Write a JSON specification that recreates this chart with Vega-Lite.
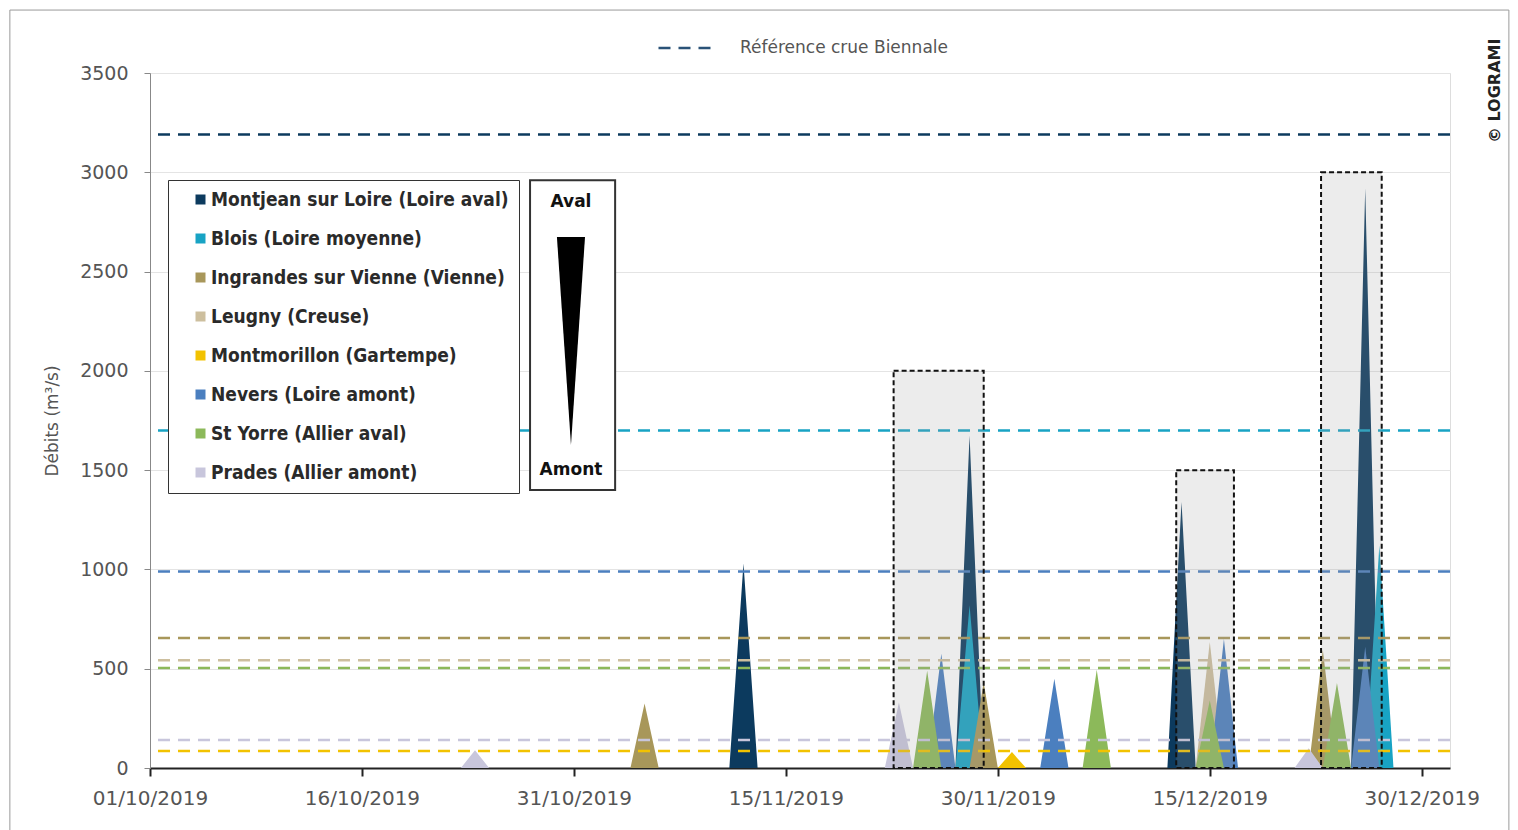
{
  "$schema": "https://vega.github.io/schema/vega-lite/v6.json",
  "width": 1300,
  "height": 695,
  "autosize": {"type": "none"},
  "padding": {"left": 150, "top": 73, "right": 68, "bottom": 62},
  "background": "white",
  "config": {
    "font": "DejaVu Sans",
    "view": {"stroke": "#dddddd", "strokeWidth": 1}
  },
  "datasets": {
    "flows": [
      {"station": "Montjean sur Loire (Loire aval)", "date": "2019-11-11T00:00", "q": 0},
      {"station": "Montjean sur Loire (Loire aval)", "date": "2019-11-12T00:00", "q": 1030},
      {"station": "Montjean sur Loire (Loire aval)", "date": "2019-11-13T00:00", "q": 0},
      {"station": "Montjean sur Loire (Loire aval)", "date": "2019-11-27T00:00", "q": 0},
      {"station": "Montjean sur Loire (Loire aval)", "date": "2019-11-28T00:00", "q": 1675},
      {"station": "Montjean sur Loire (Loire aval)", "date": "2019-11-29T00:00", "q": 0},
      {"station": "Montjean sur Loire (Loire aval)", "date": "2019-12-12T00:00", "q": 0},
      {"station": "Montjean sur Loire (Loire aval)", "date": "2019-12-13T00:00", "q": 1340},
      {"station": "Montjean sur Loire (Loire aval)", "date": "2019-12-14T00:00", "q": 0},
      {"station": "Montjean sur Loire (Loire aval)", "date": "2019-12-25T00:00", "q": 0},
      {"station": "Montjean sur Loire (Loire aval)", "date": "2019-12-26T00:00", "q": 2920},
      {"station": "Montjean sur Loire (Loire aval)", "date": "2019-12-27T00:00", "q": 0},
      {"station": "Blois (Loire moyenne)", "date": "2019-11-27T00:00", "q": 0},
      {"station": "Blois (Loire moyenne)", "date": "2019-11-28T00:00", "q": 820},
      {"station": "Blois (Loire moyenne)", "date": "2019-11-29T00:00", "q": 0},
      {"station": "Blois (Loire moyenne)", "date": "2019-12-26T00:00", "q": 0},
      {"station": "Blois (Loire moyenne)", "date": "2019-12-27T00:00", "q": 1120},
      {"station": "Blois (Loire moyenne)", "date": "2019-12-28T00:00", "q": 0},
      {"station": "Ingrandes sur Vienne (Vienne)", "date": "2019-11-04T00:00", "q": 0},
      {"station": "Ingrandes sur Vienne (Vienne)", "date": "2019-11-05T00:00", "q": 325},
      {"station": "Ingrandes sur Vienne (Vienne)", "date": "2019-11-06T00:00", "q": 0},
      {"station": "Ingrandes sur Vienne (Vienne)", "date": "2019-11-28T00:00", "q": 0},
      {"station": "Ingrandes sur Vienne (Vienne)", "date": "2019-11-29T00:00", "q": 430},
      {"station": "Ingrandes sur Vienne (Vienne)", "date": "2019-11-30T00:00", "q": 0},
      {"station": "Ingrandes sur Vienne (Vienne)", "date": "2019-12-22T00:00", "q": 0},
      {"station": "Ingrandes sur Vienne (Vienne)", "date": "2019-12-23T00:00", "q": 594},
      {"station": "Ingrandes sur Vienne (Vienne)", "date": "2019-12-24T00:00", "q": 0},
      {"station": "Leugny (Creuse)", "date": "2019-12-14T00:00", "q": 0},
      {"station": "Leugny (Creuse)", "date": "2019-12-15T00:00", "q": 635},
      {"station": "Leugny (Creuse)", "date": "2019-12-16T00:00", "q": 0},
      {"station": "Montmorillon (Gartempe)", "date": "2019-11-30T00:00", "q": 0},
      {"station": "Montmorillon (Gartempe)", "date": "2019-12-01T00:00", "q": 80},
      {"station": "Montmorillon (Gartempe)", "date": "2019-12-02T00:00", "q": 0},
      {"station": "Nevers (Loire amont)", "date": "2019-11-25T00:00", "q": 0},
      {"station": "Nevers (Loire amont)", "date": "2019-11-26T00:00", "q": 575},
      {"station": "Nevers (Loire amont)", "date": "2019-11-27T00:00", "q": 0},
      {"station": "Nevers (Loire amont)", "date": "2019-12-03T00:00", "q": 0},
      {"station": "Nevers (Loire amont)", "date": "2019-12-04T00:00", "q": 450},
      {"station": "Nevers (Loire amont)", "date": "2019-12-05T00:00", "q": 0},
      {"station": "Nevers (Loire amont)", "date": "2019-12-15T00:00", "q": 0},
      {"station": "Nevers (Loire amont)", "date": "2019-12-16T00:00", "q": 650},
      {"station": "Nevers (Loire amont)", "date": "2019-12-17T00:00", "q": 0},
      {"station": "Nevers (Loire amont)", "date": "2019-12-25T00:00", "q": 0},
      {"station": "Nevers (Loire amont)", "date": "2019-12-26T00:00", "q": 610},
      {"station": "Nevers (Loire amont)", "date": "2019-12-27T00:00", "q": 0},
      {"station": "St Yorre (Allier aval)", "date": "2019-11-24T00:00", "q": 0},
      {"station": "St Yorre (Allier aval)", "date": "2019-11-25T00:00", "q": 490},
      {"station": "St Yorre (Allier aval)", "date": "2019-11-26T00:00", "q": 0},
      {"station": "St Yorre (Allier aval)", "date": "2019-12-06T00:00", "q": 0},
      {"station": "St Yorre (Allier aval)", "date": "2019-12-07T00:00", "q": 495},
      {"station": "St Yorre (Allier aval)", "date": "2019-12-08T00:00", "q": 0},
      {"station": "St Yorre (Allier aval)", "date": "2019-12-14T00:00", "q": 0},
      {"station": "St Yorre (Allier aval)", "date": "2019-12-15T00:00", "q": 340},
      {"station": "St Yorre (Allier aval)", "date": "2019-12-16T00:00", "q": 0},
      {"station": "St Yorre (Allier aval)", "date": "2019-12-23T00:00", "q": 0},
      {"station": "St Yorre (Allier aval)", "date": "2019-12-24T00:00", "q": 428},
      {"station": "St Yorre (Allier aval)", "date": "2019-12-25T00:00", "q": 0},
      {"station": "Prades (Allier amont)", "date": "2019-10-23T00:00", "q": 0},
      {"station": "Prades (Allier amont)", "date": "2019-10-24T00:00", "q": 90},
      {"station": "Prades (Allier amont)", "date": "2019-10-25T00:00", "q": 0},
      {"station": "Prades (Allier amont)", "date": "2019-11-22T00:00", "q": 0},
      {"station": "Prades (Allier amont)", "date": "2019-11-23T00:00", "q": 330},
      {"station": "Prades (Allier amont)", "date": "2019-11-24T00:00", "q": 0},
      {"station": "Prades (Allier amont)", "date": "2019-12-21T00:00", "q": 0},
      {"station": "Prades (Allier amont)", "date": "2019-12-22T00:00", "q": 100},
      {"station": "Prades (Allier amont)", "date": "2019-12-23T00:00", "q": 0}
    ],
    "refs": [
      {"station": "Montjean sur Loire (Loire aval)", "ref": 3190, "kind": "Référence crue Biennale"},
      {"station": "Blois (Loire moyenne)", "ref": 1700, "kind": "Référence crue Biennale"},
      {"station": "Nevers (Loire amont)", "ref": 990, "kind": "Référence crue Biennale"},
      {"station": "Ingrandes sur Vienne (Vienne)", "ref": 655, "kind": "Référence crue Biennale"},
      {"station": "Leugny (Creuse)", "ref": 542, "kind": "Référence crue Biennale"},
      {"station": "St Yorre (Allier aval)", "ref": 503, "kind": "Référence crue Biennale"},
      {"station": "Prades (Allier amont)", "ref": 141, "kind": "Référence crue Biennale"},
      {"station": "Montmorillon (Gartempe)", "ref": 86, "kind": "Référence crue Biennale"}
    ],
    "boxes": [
      {"start": "2019-11-22T15:00", "end": "2019-11-29T00:00", "top": 2000},
      {"start": "2019-12-12T15:00", "end": "2019-12-16T17:00", "top": 1500},
      {"start": "2019-12-22T21:00", "end": "2019-12-27T04:00", "top": 3000}
    ],
    "gauge": [
      {"start": "2019-10-27T21:30", "end": "2019-11-02T22:00", "low": 1400, "high": 2960}
    ],
    "arrow": [
      {"date": "2019-10-30T19:00", "y": 2150}
    ],
    "labels": [
      {"date": "2019-10-30T19:00", "y": 2850, "text": "Aval"},
      {"date": "2019-10-30T19:00", "y": 1500, "text": "Amont"}
    ],
    "credit": [
      {"date": "2020-01-04T05:00", "y": 3410, "text": "© LOGRAMI"}
    ],
    "frame": [
      {"start": "2019-09-21T02:00", "end": "2020-01-05T04:00", "top": 3817, "bottom": -600}
    ]
  },
  "layer": [
    {
      "data": {"name": "frame"},
      "mark": {"type": "rect", "fill": null, "stroke": "#9a9a9a", "strokeWidth": 1},
      "encoding": {
        "x": {"field": "start", "type": "temporal"},
        "x2": {"field": "end"},
        "y": {"field": "top", "type": "quantitative"},
        "y2": {"field": "bottom"}
      }
    },
    {
      "data": {"name": "flows"},
      "mark": {"type": "area", "opacity": 1, "interpolate": "linear"},
      "encoding": {
        "x": {
          "field": "date", "type": "temporal",
          "scale": {"domain": [{"year": 2019, "month": 10, "date": 1}, {"year": 2020, "month": 1, "date": 1}]},
          "axis": {
            "title": null,
            "values": [
              {"year": 2019, "month": 10, "date": 1},
              {"year": 2019, "month": 10, "date": 16},
              {"year": 2019, "month": 10, "date": 31},
              {"year": 2019, "month": 11, "date": 15},
              {"year": 2019, "month": 11, "date": 30},
              {"year": 2019, "month": 12, "date": 15},
              {"year": 2019, "month": 12, "date": 30}
            ],
            "format": "%d/%m/%Y",
            "grid": false,
            "domainColor": "#222222",
            "domainWidth": 2,
            "tickColor": "#222222",
            "tickWidth": 2,
            "tickSize": 8,
            "labelPadding": 12,
            "labelAlign": "center",
            "labelFontSize": 20,
            "labelColor": "#555555",
            "labelFont": "DejaVu Sans",
            "labelOverlap": false,
            "labelBound": false,
            "labelFlush": false
          }
        },
        "y": {
          "field": "q", "type": "quantitative", "stack": null,
          "scale": {"domain": [0, 3500], "nice": false},
          "axis": {
            "title": "Débits (m³/s)",
            "values": [0, 500, 1000, 1500, 2000, 2500, 3000, 3500],
            "format": "d",
            "grid": true,
            "gridColor": "#e4e4e4",
            "domainColor": "#888888",
            "tickColor": "#888888",
            "tickSize": 6,
            "labelPadding": 16,
            "labelFontSize": 19,
            "labelColor": "#555555",
            "titleFontSize": 17,
            "titleFontWeight": "normal",
            "titleColor": "#555555",
            "titlePadding": 18
          }
        },
        "color": {
          "field": "station", "type": "nominal",
          "scale": {
            "domain": ["Montjean sur Loire (Loire aval)", "Blois (Loire moyenne)", "Ingrandes sur Vienne (Vienne)", "Leugny (Creuse)", "Montmorillon (Gartempe)", "Nevers (Loire amont)", "St Yorre (Allier aval)", "Prades (Allier amont)"],
            "range": ["#0c3a5e", "#18a3c4", "#a8975a", "#cdbf9e", "#f2c200", "#4b7fbf", "#8cb95a", "#c8c6dc"]
          },
          "legend": {
            "orient": "none",
            "legendX": 18,
            "legendY": 107,
            "title": null,
            "padding": 10,
            "fillColor": "white",
            "strokeColor": "#333333",
            "symbolType": "square",
            "symbolSize": 100,
            "symbolOffset": 13,
            "symbolStrokeWidth": 0,
            "labelFont": "DejaVu Sans Condensed",
            "labelFontWeight": "bold",
            "labelFontSize": 19,
            "labelColor": "#2a2a2a",
            "labelOffset": 1,
            "labelLimit": 400,
            "rowPadding": 19,
            "encode": {"legend": {"update": {"strokeWidth": {"value": 2}}}}
          }
        }
      }
    },
    {
      "data": {"name": "refs"},
      "mark": {"type": "rule", "strokeWidth": 2.5},
      "encoding": {
        "y": {"field": "ref", "type": "quantitative"},
        "color": {"field": "station", "type": "nominal"},
        "strokeDash": {
          "field": "kind", "type": "nominal",
          "scale": {"range": [[12, 8]]},
          "legend": {
            "orient": "none",
            "legendX": 507,
            "legendY": -54,
            "title": null,
            "padding": 0,
            "symbolType": "stroke",
            "symbolSize": 3025,
            "symbolStrokeWidth": 2.5,
            "symbolStrokeColor": "#2a5277",
            "labelFontSize": 17,
            "labelColor": "#555555",
            "labelOffset": 25,
            "labelLimit": 400
          }
        }
      }
    },
    {
      "data": {"name": "boxes"},
      "mark": {"type": "rect", "fill": "#9e9e9e", "fillOpacity": 0.2, "stroke": "#111111", "strokeWidth": 2, "strokeDash": [5, 3]},
      "encoding": {
        "x": {"field": "start", "type": "temporal"},
        "x2": {"field": "end"},
        "y": {"field": "top", "type": "quantitative"},
        "y2": {"datum": 0}
      }
    },
    {
      "data": {"name": "gauge"},
      "mark": {"type": "rect", "fill": "white", "stroke": "#333333", "strokeWidth": 2},
      "encoding": {
        "x": {"field": "start", "type": "temporal"},
        "x2": {"field": "end"},
        "y": {"field": "high", "type": "quantitative"},
        "y2": {"field": "low"}
      }
    },
    {
      "data": {"name": "arrow"},
      "mark": {"type": "point", "shape": "M-0.135,-1L0.135,-1L0,1Z", "size": 43264, "filled": true, "fill": "black", "opacity": 1, "strokeWidth": 0},
      "encoding": {
        "x": {"field": "date", "type": "temporal"},
        "y": {"field": "y", "type": "quantitative"}
      }
    },
    {
      "data": {"name": "labels"},
      "mark": {"type": "text", "font": "DejaVu Sans", "fontWeight": "bold", "fontSize": 17, "color": "#111111", "align": "center", "baseline": "middle"},
      "encoding": {
        "x": {"field": "date", "type": "temporal"},
        "y": {"field": "y", "type": "quantitative"},
        "text": {"field": "text"}
      }
    },
    {
      "data": {"name": "credit"},
      "mark": {"type": "text", "font": "DejaVu Sans", "fontWeight": "bold", "fontSize": 16, "color": "#222222", "align": "center", "baseline": "middle", "angle": 270},
      "encoding": {
        "x": {"field": "date", "type": "temporal"},
        "y": {"field": "y", "type": "quantitative"},
        "text": {"field": "text"}
      }
    }
  ]
}
